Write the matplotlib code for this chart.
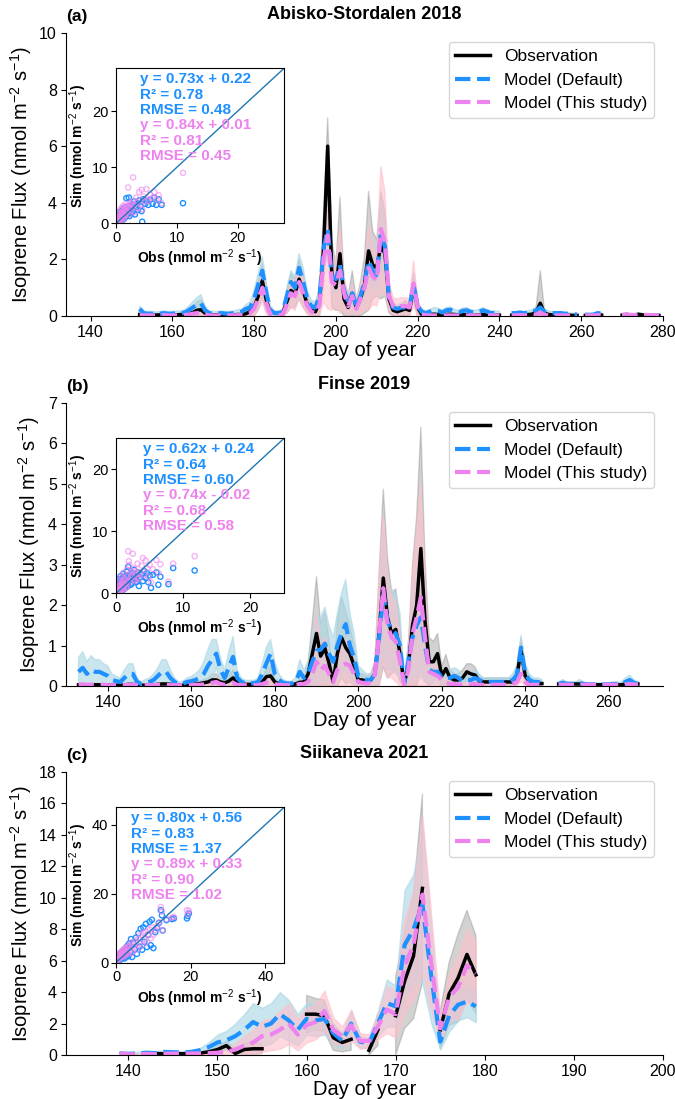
import numpy as np
import matplotlib.pyplot as plt

plt.rcParams['font.family'] = ['Liberation Sans', 'DejaVu Sans']
plt.rcParams['mathtext.fontset'] = 'custom'
plt.rcParams['mathtext.rm'] = 'Liberation Sans'
plt.rcParams['mathtext.it'] = 'Liberation Sans:italic'
plt.rcParams['mathtext.bf'] = 'Liberation Sans:bold'

nan = np.nan

# ---------------- (a) Abisko-Stordalen 2018, days 152-279 ----------------
a_days = np.arange(152, 280)
a_obs = [0.05, 0.04, 0.05, 0.04, 0.03, 0.04, 0.05, 0.04, 0.03, 0.04,
         0.05, 0.05, 0.08, 0.12, 0.2, 0.22, 0.1, 0.05, 0.04, 0.04,
         0.04, 0.03, 0.04, 0.04, 0.05, 0.05, 0.08, 0.15, 0.3, 0.7,
         1.25, 0.55, 0.1, nan, nan, 0.1, 0.5, 0.9, 0.8, 1.3,
         0.9, 0.4, 0.2, 0.15, 0.5, 2.4, 6.0, 1.5, 1.0, 2.2,
         0.6, 0.3, 0.8, 0.3, 0.6, 1.1, 2.3, 1.8, 1.7, 2.5,
         2.2, 0.6, 0.2, 0.15, 0.2, 0.25, 0.2, 1.0, 0.3, 0.05,
         0.03, 0.05, 0.06, 0.05, 0.04, 0.05, 0.06, 0.05, 0.04, 0.04,
         0.05, 0.04, 0.03, 0.04, 0.05, 0.04, 0.03, 0.03, 0.03, nan,
         nan, 0.03, 0.04, 0.05, 0.04, 0.05, 0.06, 0.15, 0.45, 0.1,
         0.05, 0.04, 0.04, 0.03, 0.03, 0.03, 0.02, 0.02, nan, 0.02,
         0.02, 0.02, 0.03, 0.03, nan, nan, nan, nan, 0.03, 0.05,
         0.04, 0.03, 0.06, 0.04, 0.03, 0.02, 0.03, 0.02]
a_dft = [0.25, 0.1, 0.08, 0.08, 0.07, 0.08, 0.1, 0.08, 0.08, 0.1,
         0.1, 0.12, 0.2, 0.3, 0.4, 0.45, 0.2, 0.1, 0.08, 0.08,
         0.1, 0.08, 0.08, 0.1, 0.12, 0.15, 0.25, 0.3, 0.6, 1.1,
         1.6, 0.8, 0.2, 0.1, 0.1, 0.15, 0.7, 1.2, 1.0, 1.7,
         1.2, 0.6, 0.35, 0.3, 0.7, 2.4, 3.07, 1.4, 1.3, 1.8,
         0.9, 0.5, 0.8, 0.35, 0.7, 1.2, 1.95, 1.6, 1.35, 2.9,
         2.45, 0.6, 0.3, 0.25, 0.3, 0.3, 0.3, 1.1, 0.35, 0.15,
         0.1, 0.15, 0.2, 0.18, 0.12, 0.2, 0.22, 0.15, 0.12, 0.18,
         0.2, 0.14, 0.12, 0.15, 0.2, 0.15, 0.1, 0.12, 0.1, nan,
         nan, 0.1, 0.1, 0.12, 0.1, 0.12, 0.15, 0.2, 0.3, 0.15,
         0.12, 0.1, 0.1, 0.1, 0.08, 0.08, 0.06, 0.05, nan, 0.05,
         0.04, 0.05, 0.1, 0.08, nan, nan, nan, nan, 0.03, 0.04,
         0.03, 0.03, 0.04, 0.03, 0.03, 0.02, 0.03, 0.02]
a_new = [0.03, 0.02, 0.02, 0.02, 0.02, 0.02, 0.03, 0.02, 0.02, 0.02,
         0.02, 0.03, 0.05, 0.08, 0.1, 0.12, 0.05, 0.02, 0.02, 0.02,
         0.02, 0.02, 0.02, 0.02, 0.03, 0.03, 0.05, 0.1, 0.25, 0.6,
         1.0, 0.45, 0.05, 0.02, 0.02, 0.05, 0.4, 0.8, 0.7, 1.2,
         0.8, 0.35, 0.15, 0.1, 0.4, 2.0, 2.85, 1.2, 1.1, 1.6,
         0.8, 0.35, 0.7, 0.25, 0.6, 1.0, 1.7, 1.4, 1.25, 3.07,
         2.6, 0.7, 0.35, 0.3, 0.35, 0.35, 0.3, 1.15, 0.3, 0.05,
         0.02, 0.02, 0.02, 0.02, 0.02, 0.02, 0.02, 0.02, 0.02, 0.02,
         0.02, 0.02, 0.02, 0.02, 0.02, 0.02, 0.02, 0.02, 0.02, nan,
         nan, 0.02, 0.02, 0.03, 0.02, 0.03, 0.03, 0.05, 0.12, 0.04,
         0.02, 0.02, 0.02, 0.02, 0.02, 0.02, 0.02, 0.02, nan, 0.02,
         0.02, 0.02, 0.03, 0.03, nan, nan, nan, nan, 0.04, 0.05,
         0.04, 0.03, 0.05, 0.03, 0.04, 0.03, 0.03, 0.02]
a_obs_sd = [0.05, 0.05, 0.05, 0.05, 0.04, 0.04, 0.05, 0.05, 0.04, 0.05,
            0.05, 0.05, 0.1, 0.15, 0.3, 0.35, 0.1, 0.05, 0.05, 0.05,
            0.05, 0.04, 0.05, 0.05, 0.05, 0.05, 0.08, 0.15, 0.3, 0.5,
            0.6, 0.4, 0.1, nan, nan, 0.1, 0.4, 0.6, 0.5, 0.7,
            0.6, 0.3, 0.2, 0.15, 0.5, 1.2, 1.0, 1.2, 0.8, 2.0,
            0.6, 0.4, 0.8, 0.3, 0.6, 1.0, 2.1, 1.2, 1.0, 1.9,
            1.5, 0.5, 0.2, 0.15, 0.2, 0.3, 0.2, 0.5, 0.3, 0.05,
            0.03, 0.05, 0.05, 0.05, 0.04, 0.05, 0.05, 0.05, 0.04, 0.04,
            0.05, 0.04, 0.03, 0.04, 0.05, 0.04, 0.03, 0.03, 0.03, nan,
            nan, 0.03, 0.04, 0.05, 0.04, 0.05, 0.06, 0.2, 1.15, 0.1,
            0.05, 0.04, 0.04, 0.03, 0.03, 0.03, 0.02, 0.02, nan, 0.02,
            0.02, 0.02, 0.03, 0.03, nan, nan, nan, nan, 0.03, 0.05,
            0.04, 0.03, 0.05, 0.04, 0.03, 0.02, 0.03, 0.02]
a_dft_sd = [0.1, 0.08, 0.08, 0.08, 0.07, 0.08, 0.08, 0.08, 0.08, 0.08,
            0.08, 0.1, 0.15, 0.2, 0.25, 0.3, 0.15, 0.08, 0.08, 0.08,
            0.08, 0.08, 0.08, 0.08, 0.1, 0.1, 0.15, 0.2, 0.3, 0.4,
            0.5, 0.4, 0.15, 0.08, 0.08, 0.1, 0.3, 0.4, 0.4, 0.5,
            0.5, 0.3, 0.2, 0.2, 0.3, 0.8, 1.0, 0.6, 0.5, 0.8,
            0.4, 0.3, 0.4, 0.2, 0.3, 0.5, 0.8, 0.6, 0.5, 1.2,
            1.0, 0.3, 0.15, 0.15, 0.15, 0.15, 0.15, 0.4, 0.15, 0.1,
            0.08, 0.08, 0.1, 0.1, 0.08, 0.1, 0.1, 0.08, 0.08, 0.1,
            0.1, 0.08, 0.08, 0.08, 0.1, 0.08, 0.06, 0.06, 0.06, nan,
            nan, 0.05, 0.05, 0.06, 0.05, 0.06, 0.08, 0.1, 0.15, 0.08,
            0.06, 0.05, 0.05, 0.05, 0.04, 0.04, 0.03, 0.03, nan, 0.03,
            0.03, 0.03, 0.05, 0.04, nan, nan, nan, nan, 0.02, 0.02,
            0.02, 0.02, 0.02, 0.02, 0.02, 0.02, 0.02, 0.02]
a_new_sd = [0.03, 0.02, 0.02, 0.02, 0.02, 0.02, 0.03, 0.02, 0.02, 0.02,
            0.02, 0.03, 0.05, 0.08, 0.1, 0.12, 0.05, 0.02, 0.02, 0.02,
            0.02, 0.02, 0.02, 0.02, 0.03, 0.03, 0.05, 0.1, 0.25, 0.4,
            0.5, 0.4, 0.05, 0.02, 0.02, 0.05, 0.3, 0.5, 0.5, 0.6,
            0.5, 0.3, 0.15, 0.1, 0.4, 1.5, 2.6, 1.0, 0.8, 1.5,
            0.6, 0.35, 0.5, 0.25, 0.5, 0.8, 1.5, 1.0, 0.9, 2.2,
            1.8, 0.5, 0.3, 0.3, 0.3, 0.3, 0.3, 0.8, 0.3, 0.05,
            0.02, 0.02, 0.02, 0.02, 0.02, 0.02, 0.02, 0.02, 0.02, 0.02,
            0.02, 0.02, 0.02, 0.02, 0.02, 0.02, 0.02, 0.02, 0.02, nan,
            nan, 0.02, 0.02, 0.03, 0.02, 0.03, 0.03, 0.05, 0.1, 0.04,
            0.02, 0.02, 0.02, 0.02, 0.02, 0.02, 0.02, 0.02, nan, 0.02,
            0.02, 0.02, 0.03, 0.03, nan, nan, nan, nan, 0.04, 0.05,
            0.04, 0.03, 0.05, 0.03, 0.04, 0.03, 0.03, 0.02]

# ---------------- (b) Finse 2019, days 133-267 ----------------
b_days = np.arange(133, 268)
b_obs = [0.03, 0.03, 0.03, 0.03, 0.03, 0.03, 0.03, 0.03, 0.03, 0.02,
         0.02, 0.03, 0.04, 0.04, 0.02, 0.02, 0.02, 0.03, 0.03, 0.04,
         0.05, 0.05, 0.04, 0.03, 0.02, 0.02, 0.03, 0.04, 0.05, 0.06,
         0.08, 0.1, 0.15, 0.15, 0.1, 0.08, 0.12, 0.2, 0.1, 0.05,
         0.04, 0.04, 0.05, 0.06, 0.1, 0.23, 0.25, 0.1, 0.05, 0.03,
         0.03, 0.03, 0.05, 0.09, 0.1, 0.3, 0.8, 1.3, 0.74, 0.94,
         0.56, 0.1, 0.8, 1.2, 0.95, 0.8, 0.5, 0.15, 0.15, 0.12,
         0.15, 0.3, 1.3, 2.67, 1.7, 1.3, 1.4, 0.8, 0.05, 0.5,
         1.5, 2.0, 3.4, 1.6, 0.6, 0.6, 0.8, 0.25, 0.43, 0.2,
         0.15, 0.15, 0.2, 0.35, 0.3, 0.27, 0.12, 0.1, 0.1, 0.1,
         0.1, 0.1, 0.1, 0.1, 0.1, 0.25, 0.88, 0.25, 0.1, 0.08,
         0.06, 0.06, nan, nan, nan, 0.05, 0.05, 0.05, 0.05, 0.05,
         0.05, 0.03, 0.03, 0.03, 0.03, 0.03, 0.03, 0.03, 0.03, 0.03,
         0.03, 0.05, 0.05, 0.05, 0.05]
b_dft = [0.35, 0.45, 0.3, 0.4, 0.35, 0.35, 0.3, 0.25, 0.15, 0.12,
         0.1, 0.2, 0.3, 0.3, 0.1, 0.05, 0.08, 0.1, 0.15, 0.25,
         0.35, 0.35, 0.2, 0.1, 0.05, 0.06, 0.1, 0.12, 0.15, 0.2,
         0.3, 0.5, 0.65, 0.8, 0.4, 0.2, 0.45, 0.72, 0.2, 0.1,
         0.07, 0.07, 0.07, 0.1, 0.3, 0.56, 0.8, 0.3, 0.15, 0.08,
         0.06, 0.06, 0.1, 0.35, 0.2, 0.31, 0.6, 0.87, 0.9, 1.05,
         0.8, 0.6, 1.0, 1.3, 1.53, 1.0, 0.7, 0.25, 0.2, 0.15,
         0.15, 0.3, 1.2, 2.26, 1.6, 1.4, 1.3, 1.0, 0.05, 0.6,
         1.2, 1.5, 1.7, 1.0, 0.4, 0.35, 0.35, 0.2, 0.2, 0.2,
         0.25, 0.2, 0.12, 0.15, 0.15, 0.2, 0.15, 0.1, 0.1, 0.1,
         0.1, 0.1, 0.1, 0.1, 0.15, 0.27, 0.95, 0.3, 0.15, 0.1,
         0.1, 0.08, nan, nan, nan, 0.05, 0.08, 0.05, 0.05, 0.05,
         0.08, 0.05, 0.04, 0.04, 0.04, 0.04, 0.04, 0.04, 0.05, 0.05,
         0.05, 0.1, 0.15, 0.08, 0.05]
b_new = [0.03, 0.04, 0.03, 0.03, 0.03, 0.03, 0.03, 0.02, 0.02, 0.02,
         0.02, 0.02, 0.03, 0.03, 0.02, 0.02, 0.02, 0.02, 0.02, 0.03,
         0.03, 0.03, 0.02, 0.02, 0.02, 0.02, 0.02, 0.02, 0.03, 0.03,
         0.04, 0.06, 0.08, 0.1, 0.05, 0.03, 0.05, 0.08, 0.03, 0.02,
         0.02, 0.02, 0.02, 0.02, 0.05, 0.08, 0.1, 0.05, 0.03, 0.02,
         0.02, 0.02, 0.02, 0.05, 0.05, 0.1, 0.3, 0.6, 0.4, 0.5,
         0.3, 0.1, 0.4, 0.5, 0.55, 0.5, 0.3, 0.1, 0.08, 0.06,
         0.08, 0.3, 1.3, 2.42, 1.5, 1.2, 1.1, 0.6, 0.03, 0.4,
         1.3, 1.7, 2.2, 1.2, 0.35, 0.3, 0.25, 0.15, 0.08, 0.05,
         0.05, 0.04, 0.03, 0.04, 0.04, 0.05, 0.03, 0.03, 0.03, 0.03,
         0.03, 0.03, 0.03, 0.03, 0.05, 0.1, 0.3, 0.1, 0.03, 0.03,
         0.03, 0.03, nan, nan, nan, 0.03, 0.03, 0.03, 0.03, 0.03,
         0.03, 0.03, 0.03, 0.03, 0.03, 0.03, 0.03, 0.03, 0.03, 0.03,
         0.03, 0.04, 0.05, 0.04, 0.03]
b_obs_sd = [0.03, 0.03, 0.03, 0.03, 0.03, 0.03, 0.03, 0.03, 0.03, 0.03,
            0.03, 0.03, 0.03, 0.03, 0.03, 0.03, 0.03, 0.03, 0.03, 0.03,
            0.04, 0.04, 0.04, 0.03, 0.03, 0.03, 0.03, 0.04, 0.05, 0.06,
            0.08, 0.1, 0.15, 0.15, 0.1, 0.08, 0.12, 0.2, 0.1, 0.05,
            0.04, 0.04, 0.05, 0.06, 0.1, 0.2, 0.25, 0.1, 0.05, 0.03,
            0.03, 0.03, 0.05, 0.09, 0.1, 0.3, 0.8, 1.4, 0.8, 0.9,
            0.6, 0.1, 0.8, 1.0, 0.9, 0.7, 0.5, 0.15, 0.15, 0.12,
            0.15, 0.3, 1.5, 2.2, 1.5, 1.0, 1.0, 0.7, 0.05, 0.5,
            1.5, 2.2, 3.0, 1.5, 0.6, 0.5, 0.5, 0.25, 0.35, 0.2,
            0.15, 0.15, 0.2, 0.2, 0.25, 0.2, 0.1, 0.1, 0.1, 0.1,
            0.1, 0.1, 0.1, 0.1, 0.1, 0.2, 0.3, 0.2, 0.1, 0.08,
            0.06, 0.06, nan, nan, nan, 0.05, 0.05, 0.05, 0.05, 0.05,
            0.05, 0.03, 0.03, 0.03, 0.03, 0.03, 0.03, 0.03, 0.03, 0.03,
            0.03, 0.05, 0.05, 0.05, 0.05]
b_dft_sd = [0.35, 0.4, 0.3, 0.35, 0.3, 0.3, 0.25, 0.25, 0.15, 0.12,
            0.1, 0.2, 0.25, 0.25, 0.1, 0.05, 0.08, 0.1, 0.15, 0.2,
            0.3, 0.3, 0.2, 0.1, 0.05, 0.06, 0.1, 0.12, 0.15, 0.2,
            0.3, 0.4, 0.5, 0.35, 0.3, 0.2, 0.4, 0.5, 0.2, 0.1,
            0.07, 0.07, 0.07, 0.1, 0.25, 0.4, 0.35, 0.3, 0.15, 0.08,
            0.06, 0.06, 0.1, 0.3, 0.2, 0.3, 0.6, 0.9, 0.8, 0.9,
            0.7, 0.6, 0.8, 1.0, 1.1, 0.8, 0.6, 0.25, 0.2, 0.15,
            0.15, 0.3, 1.0, 1.5, 1.2, 1.0, 1.0, 0.8, 0.05, 0.5,
            1.0, 1.3, 1.5, 0.9, 0.35, 0.3, 0.3, 0.2, 0.2, 0.2,
            0.2, 0.2, 0.12, 0.15, 0.15, 0.2, 0.15, 0.1, 0.1, 0.1,
            0.1, 0.1, 0.1, 0.1, 0.15, 0.25, 0.3, 0.25, 0.15, 0.1,
            0.1, 0.08, nan, nan, nan, 0.05, 0.08, 0.05, 0.05, 0.05,
            0.08, 0.05, 0.04, 0.04, 0.04, 0.04, 0.04, 0.04, 0.05, 0.05,
            0.05, 0.1, 0.12, 0.08, 0.05]
b_new_sd = [0.03, 0.04, 0.03, 0.03, 0.03, 0.03, 0.03, 0.02, 0.02, 0.02,
            0.02, 0.02, 0.03, 0.03, 0.02, 0.02, 0.02, 0.02, 0.02, 0.03,
            0.03, 0.03, 0.02, 0.02, 0.02, 0.02, 0.02, 0.02, 0.03, 0.03,
            0.04, 0.06, 0.08, 0.1, 0.05, 0.03, 0.05, 0.08, 0.03, 0.02,
            0.02, 0.02, 0.02, 0.02, 0.05, 0.08, 0.1, 0.05, 0.03, 0.02,
            0.02, 0.02, 0.02, 0.05, 0.05, 0.1, 0.4, 1.2, 0.6, 0.7,
            0.4, 0.1, 0.5, 0.6, 0.6, 0.5, 0.3, 0.1, 0.08, 0.06,
            0.08, 0.3, 1.5, 1.8, 1.3, 1.0, 1.0, 0.6, 0.03, 0.5,
            1.5, 2.2, 2.8, 1.4, 0.4, 0.3, 0.25, 0.15, 0.08, 0.05,
            0.05, 0.04, 0.03, 0.04, 0.04, 0.05, 0.03, 0.03, 0.03, 0.03,
            0.03, 0.03, 0.03, 0.03, 0.05, 0.1, 0.2, 0.1, 0.03, 0.03,
            0.03, 0.03, nan, nan, nan, 0.03, 0.03, 0.03, 0.03, 0.03,
            0.03, 0.03, 0.03, 0.03, 0.03, 0.03, 0.03, 0.03, 0.03, 0.03,
            0.03, 0.04, 0.05, 0.04, 0.03]

# ---------------- (c) Siikaneva 2021, days 139-179 ----------------
c_days = np.arange(139, 180)
c_obs = [nan, nan, nan, nan, 0.1, 0.08, 0.1, 0.08, 0.1, 0.12,
         0.2, 0.35, 0.6, 0.1, 0.35, 0.4, 0.4, nan, nan, 1.35,
         nan, 2.6, 2.6, 2.5, 1.1, 0.8, 1.0, nan, 0.3, 1.6,
         nan, 2.5, 4.7, 6.3, 10.6, nan, 1.6, 3.9, 4.9, 6.4,
         5.1]
c_dft = [0.1, 0.08, 0.1, 0.15, 0.12, 0.2, 0.18, 0.15, 0.2, 0.3,
         0.5, 0.8, 0.94, 1.2, 1.6, 2.1, 1.8, 2.0, 2.6, 2.2,
         1.6, 2.3, 2.2, 2.3, 1.4, 0.9, 2.0, 0.85, 0.75, 2.0,
         3.3, 3.1, 7.0, 8.0, 9.6, 5.0, 0.85, 2.5, 3.2, 3.4,
         3.1]
c_new = [0.1, 0.05, 0.05, 0.08, 0.05, 0.08, 0.1, 0.08, 0.1, 0.1,
         0.12, 0.15, 0.2, 0.35, 0.6, 0.8, 1.2, 1.3, 1.6, 2.0,
         1.3, 1.9, 2.1, 2.8, 1.6, 1.2, 1.9, 0.9, 0.9, 1.8,
         2.9, 2.6, 5.7, 7.0, 10.2, 5.8, 1.7, 3.7, 4.3, 5.7,
         5.2]
c_obs_sd = [nan, nan, nan, nan, 0.05, 0.05, 0.05, 0.05, 0.05, 0.08,
            0.1, 0.2, 0.3, 0.3, 0.4, 0.4, 0.3, nan, nan, 1.35,
            nan, 1.2, 1.0, 1.0, 0.8, 0.6, 0.7, nan, 0.3, 1.0,
            nan, 2.5, 3.0, 4.0, 6.0, nan, 1.2, 2.0, 2.8, 2.8,
            2.5]
c_dft_sd = [0.1, 0.1, 0.1, 0.1, 0.1, 0.1, 0.1, 0.1, 0.1, 0.15,
            0.3, 0.5, 0.6, 0.8, 1.0, 1.2, 1.2, 1.3, 1.4, 1.3,
            1.0, 1.0, 1.0, 1.0, 0.6, 0.5, 0.8, 0.4, 0.3, 0.8,
            1.5, 1.3, 3.5, 3.5, 5.0, 3.0, 0.5, 1.0, 1.0, 1.0,
            1.0]
c_new_sd = [0.05, 0.05, 0.05, 0.05, 0.05, 0.05, 0.05, 0.05, 0.05, 0.05,
            0.08, 0.1, 0.2, 0.4, 0.6, 0.8, 1.0, 1.0, 1.2, 1.3,
            1.0, 1.1, 1.1, 1.3, 0.8, 0.6, 1.0, 0.5, 0.4, 0.8,
            1.5, 1.5, 3.0, 3.5, 5.0, 3.0, 0.8, 1.5, 2.0, 2.3,
            2.0]

# ---------------- inset scatter (obs vs sim) ----------------
a_sc_obs = [0.1, 0.2, 0.3, 0.3, 0.4, 0.5, 0.6, 0.7, 0.8, 0.9, 1.0, 1.1, 1.2, 1.3, 1.4, 1.5,
            1.6, 1.7, 1.8, 2.0, 2.1, 2.2, 2.4, 2.5, 2.7, 2.8, 3.0, 3.1, 3.3, 3.5, 3.6, 3.8,
            4.0, 4.2, 4.3, 4.5, 4.8, 5.0, 5.3, 5.6, 6.0, 6.3, 6.6, 7.0, 7.5, 11.0,
            0.15, 0.25, 0.35, 0.45, 0.55, 0.65, 0.75, 0.85, 0.95, 1.05, 1.15, 1.25, 1.35,
            1.45, 1.55, 1.65, 1.75, 1.9, 2.3, 2.6]
a_sc_dft = [0.9, 1.5, 0.4, 1.9, 0.7, 1.2, 0.3, 1.6, 0.9, 2.2, 0.6, 1.4, 2.6, 0.8, 1.9, 1.1,
            2.9, 4.5, 1.5, 2.2, 4.6, 1.3, 2.8, 1.8, 3.4, 2.2, 3.9, 1.6, 2.9, 3.6, 2.4, 4.1,
            3.0, 2.2, 0.3, 4.3, 3.5, 4.0, 3.3, 4.2, 3.5, 4.6, 3.3, 4.3, 3.3, 3.6,
            0.3, 0.6, 1.1, 0.5, 0.9, 1.4, 0.8, 1.7, 1.2, 0.9, 2.0, 1.6, 1.2,
            2.3, 1.8, 1.3, 2.5, 2.0, 3.1, 2.6]
a_sc_new = [0.5, 1.1, 0.2, 2.0, 0.6, 1.4, 0.4, 2.4, 0.8, 2.8, 0.5, 1.8, 3.1, 0.9, 2.2, 1.4,
            3.5, 3.0, 2.0, 6.4, 2.9, 1.6, 3.6, 2.3, 4.0, 8.2, 3.3, 2.0, 4.6, 3.8, 2.8, 5.6,
            3.4, 6.0, 2.5, 4.8, 3.9, 6.1, 4.0, 5.1, 4.6, 5.6, 4.3, 5.0, 3.6, 9.0,
            0.1, 0.4, 0.8, 1.2, 0.5, 1.0, 1.6, 1.1, 2.0, 1.4, 1.2, 2.5, 1.7,
            1.5, 2.8, 2.1, 1.9, 3.2, 2.7, 3.4]
b_sc_obs = [0.05, 0.1, 0.1, 0.2, 0.3, 0.4, 0.5, 0.6, 0.7, 0.8, 0.9, 1.0, 1.1, 1.2, 1.3, 1.5,
            1.6, 1.7, 1.8, 1.9, 2.0, 2.2, 2.4, 2.5, 2.7, 2.9, 3.0, 3.2, 3.4, 3.6, 3.8, 4.0,
            4.2, 4.4, 4.6, 4.8, 5.0, 5.2, 5.5, 6.0, 6.3, 6.6, 7.8, 8.5, 11.7,
            0.15, 0.25, 0.35, 0.45, 0.55, 0.65, 0.75, 0.85, 0.95, 1.05, 1.15, 1.25, 1.4,
            1.55, 1.75, 2.1, 2.3, 2.6, 2.8, 3.1]
b_sc_dft = [2.0, 1.4, 0.6, 1.0, 2.3, 0.5, 1.6, 0.9, 2.8, 1.2, 0.4, 2.0, 3.2, 1.5, 0.8, 2.5,
            3.5, 1.1, 4.3, 2.0, 2.9, 1.4, 3.3, 2.2, 3.8, 1.8, 2.7, 3.4, 1.2, 2.6, 3.1, 2.0,
            3.6, 2.5, 3.3, 1.8, 2.9, 0.9, 3.0, 3.4, 1.4, 2.7, 1.5, 4.1, 3.7,
            0.9, 1.7, 0.7, 1.3, 2.1, 0.8, 1.5, 2.4, 1.0, 1.8, 2.6, 1.1, 1.9,
            2.9, 1.3, 2.4, 1.7, 2.9, 2.3, 1.9]
b_sc_new = [0.3, 0.8, 0.2, 1.3, 0.5, 1.8, 0.4, 2.2, 1.0, 2.8, 0.6, 1.6, 3.3, 1.2, 2.4, 0.9,
            3.8, 2.0, 6.8, 5.2, 4.6, 2.6, 3.5, 6.4, 4.0, 2.0, 3.1, 4.8, 2.4, 3.4, 4.5, 5.7,
            3.0, 5.3, 4.1, 2.7, 4.6, 1.8, 3.9, 5.4, 3.3, 4.7, 1.9, 4.8, 6.0,
            0.5, 0.1, 1.1, 0.7, 0.3, 1.4, 0.9, 0.5, 1.9, 1.2, 0.8, 2.1, 1.5,
            1.0, 2.7, 1.8, 2.9, 2.2, 3.6, 2.5]
c_sc_obs = [0.2, 0.5, 0.8, 1.0, 1.3, 1.5, 1.8, 2.0, 2.3, 2.5, 2.8, 3.0, 3.3, 3.5, 3.8, 4.0,
            4.3, 4.6, 5.0, 5.3, 5.6, 6.0, 6.3, 6.6, 7.0, 7.3, 7.6, 8.0, 8.3, 8.6, 9.0, 9.3,
            9.6, 10.0, 10.5, 11.0, 11.5, 12.0, 12.3, 12.5, 13.5, 15.0, 15.5, 19.0, 19.2, 19.5,
            0.1, 0.3, 0.4, 0.6, 0.7, 0.9, 1.1, 1.2, 1.4, 1.6, 1.7, 1.9, 2.1, 2.2,
            2.4, 2.6, 2.7, 2.9, 3.1, 3.2]
c_sc_dft = [0.8, 1.5, 0.4, 2.2, 1.0, 2.8, 1.6, 3.5, 1.2, 4.0, 2.0, 4.8, 1.8, 5.5, 3.0, 6.8,
            1.6, 5.8, 3.8, 7.2, 2.5, 8.5, 4.6, 9.8, 3.7, 10.2, 6.0, 11.2, 4.5, 8.0, 11.8, 5.0,
            12.4, 4.2, 8.8, 10.0, 11.5, 15.2, 13.7, 9.3, 12.3, 12.6, 12.8, 12.8, 13.5, 14.2,
            0.3, 1.0, 0.6, 1.8, 1.2, 0.7, 2.4, 1.5, 2.0, 1.1, 3.2, 2.3, 1.4, 3.6,
            2.6, 1.9, 3.8, 2.8, 2.2, 4.2]
c_sc_new = [1.0, 2.0, 0.8, 2.8, 1.5, 3.2, 2.4, 3.8, 1.8, 4.2, 3.0, 4.6, 2.5, 5.0, 3.6, 5.8,
            2.8, 5.5, 4.5, 6.4, 3.8, 7.0, 5.6, 8.0, 5.0, 8.6, 6.8, 9.0, 6.0, 8.2, 9.6, 7.0,
            10.2, 8.0, 9.5, 10.4, 11.6, 16.1, 14.8, 9.4, 12.6, 13.0, 13.2, 15.2, 14.0, 15.0,
            0.5, 1.3, 1.0, 2.2, 1.6, 1.2, 2.6, 2.0, 2.4, 1.7, 3.3, 2.7, 2.0, 3.8,
            3.0, 2.4, 4.0, 3.3, 2.8, 4.4]

titles = ['Abisko-Stordalen 2018', 'Finse 2019', 'Siikaneva 2021']
letters = ['(a)', '(b)', '(c)']
stats_dft = [['y = 0.73x + 0.22', 'R² = 0.78', 'RMSE = 0.48'],
             ['y = 0.62x + 0.24', 'R² = 0.64', 'RMSE = 0.60'],
             ['y = 0.80x + 0.56', 'R² = 0.83', 'RMSE = 1.37']]
stats_new = [['y = 0.84x + 0.01', 'R² = 0.81', 'RMSE = 0.45'],
             ['y = 0.74x - 0.02', 'R² = 0.68', 'RMSE = 0.58'],
             ['y = 0.89x + 0.33', 'R² = 0.90', 'RMSE = 1.02']]

panels = [
    (a_days, a_obs, a_dft, a_new, a_obs_sd, a_dft_sd, a_new_sd, (134, 280), (0, 10), np.arange(140, 281, 20), np.arange(0, 11, 2),
     a_sc_obs, a_sc_dft, a_sc_new, 27.6, [0, 10, 20]),
    (b_days, b_obs, b_dft, b_new, b_obs_sd, b_dft_sd, b_new_sd, (130, 273), (0, 7), np.arange(140, 261, 20), np.arange(0, 8, 1),
     b_sc_obs, b_sc_dft, b_sc_new, 25, [0, 10, 20]),
    (c_days, c_obs, c_dft, c_new, c_obs_sd, c_dft_sd, c_new_sd, (133, 200), (0, 18), np.arange(140, 201, 10), np.arange(0, 19, 2),
     c_sc_obs, c_sc_dft, c_sc_new, 45, [0, 20, 40]),
]

fig = plt.figure(figsize=(6.75, 10.99), dpi=100)
bottoms = [0.7125, 0.3758, 0.04]

for i, p in enumerate(panels):
    days, obs, dft, new, obs_sd, dft_sd, new_sd, xl, yl, xt, yt, sc_o, sc_d, sc_n, lim, itick = p
    ax = fig.add_axes([0.0978, bottoms[i], 0.8844, 0.2575])
    obs, dft, new = np.array(obs), np.array(dft), np.array(new)
    obs_sd, dft_sd, new_sd = np.array(obs_sd), np.array(dft_sd), np.array(new_sd)

    # uncertainty bands
    ax.fill_between(days, np.clip(obs - obs_sd, 0, None), obs + obs_sd, color='grey', alpha=0.35, lw=1)
    ax.fill_between(days, np.clip(dft - dft_sd, 0, None), dft + dft_sd, color='lightblue', alpha=0.65, lw=1)
    ax.fill_between(days, np.clip(new - new_sd, 0, None), new + new_sd, color='pink', alpha=0.6, lw=1)

    ax.plot(days, obs, color='black', lw=2.5, label='Observation')
    ax.plot(days, dft, color='dodgerblue', lw=3, ls='--', label='Model (Default)')
    ax.plot(days, new, color='violet', lw=3, ls='--', label='Model (This study)')

    ax.set_xlim(xl)
    ax.set_ylim(yl)
    ax.set_xticks(xt)
    ax.set_yticks(yt)
    ax.tick_params(labelsize=11.5, pad=3)
    ax.spines['top'].set_visible(False)
    ax.spines['right'].set_visible(False)
    ax.set_xlabel('Day of year', fontsize=14.5, labelpad=1)
    ax.set_ylabel('Isoprene Flux (nmol m$^{-2}$ s$^{-1}$)', fontsize=14.5)
    ax.set_title(titles[i], fontsize=13, fontweight='bold', pad=10)
    ax.text(0.0, 1.057, letters[i], transform=ax.transAxes, fontsize=12.5,
            fontweight='bold', va='center', ha='left')
    ax.legend(loc='upper right', fontsize=12.5)

    # inset scatter
    ins = ax.inset_axes([0.0838, 0.327, 0.2814, 0.548])
    ins.plot([0, lim], [0, lim], color='tab:blue', lw=1)
    ins.scatter(sc_o, sc_d, s=14, facecolors='none', edgecolors='dodgerblue', lw=1)
    ins.scatter(sc_o, sc_n, s=14, facecolors='none', edgecolors='violet', lw=1, alpha=0.6)
    ins.set_xlim(0, lim)
    ins.set_ylim(0, lim)
    ins.set_xticks(itick)
    ins.set_yticks(itick)
    ins.tick_params(labelsize=10.5, pad=2)
    ins.set_xlabel('Obs (nmol m$^{-2}$ s$^{-1}$)', fontsize=10, fontweight='bold', labelpad=2)
    ins.set_ylabel('Sim (nmol m$^{-2}$ s$^{-1}$)', fontsize=10, fontweight='bold', labelpad=2)
    tr = ins.get_xaxis_transform()
    for k in range(3):
        ins.text(4, 0.93 - k * 0.099, stats_dft[i][k], transform=tr, color='dodgerblue',
                 fontsize=11, fontweight='bold', va='center')
        ins.text(4, 0.93 - (k + 3) * 0.099, stats_new[i][k], transform=tr, color='violet',
                 fontsize=11, fontweight='bold', va='center')

fig.savefig('out.png', dpi=100)
